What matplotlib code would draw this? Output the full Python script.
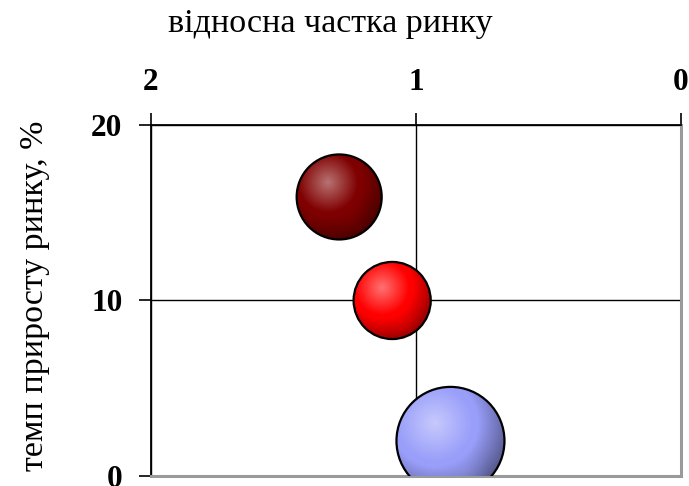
import numpy as np
import matplotlib
matplotlib.use("Agg")
from matplotlib import pyplot as plt
from matplotlib.patches import Ellipse

# relative market share (x), market growth rate % (y), bubble size
share = [1.29, 1.09, 0.87]
growth = [15.9, 10.0, 2.0]
size = [62, 51, 100]
colors = [(0.50, 0.0, 0.0), (1.0, 0.0, 0.0), (0.60, 0.62, 0.98)]

x_ticks = [2, 1, 0]
y_ticks = [0, 10, 20]

plt.rcParams['font.family'] = ['Liberation Serif', 'DejaVu Serif']

fig = plt.figure(figsize=(6.89, 4.86), dpi=100)
ax = fig.add_axes([0.2192, 0.0206, 0.7692, 0.7222])
ax.set_xlim(2, 0)
ax.set_ylim(0, 20)

ax.xaxis.tick_top()
ax.set_xticks(x_ticks)
ax.set_yticks(y_ticks)
ax.tick_params(axis='both', direction='out', length=8.5, width=1.2, color='black',
               labelsize=22.5, pad=12)
for lab in ax.get_xticklabels() + ax.get_yticklabels():
    lab.set_fontweight('bold')

ax.grid(True, color='black', linewidth=1.0)
ax.set_axisbelow(True)
for side in ['top', 'left']:
    ax.spines[side].set_color('black')
    ax.spines[side].set_linewidth(1.3)
for side in ['bottom', 'right']:
    ax.spines[side].set_color('#9a9a9a')
    ax.spines[side].set_linewidth(2.2)

fig.text(0.479, 0.952, "відносна частка ринку", fontsize=24.5, ha='center', va='center')
fig.text(0.050, 0.392, "темп приросту ринку, %", fontsize=24.5, rotation=90,
         ha='center', va='center')

# pixel scale of the data axes
p0 = ax.transData.transform((0, 0))
p1 = ax.transData.transform((1, 1))
px_x = abs(p1[0] - p0[0])
px_y = abs(p1[1] - p0[1])

R_MAX = 54.0
n = 300
u = np.linspace(-1, 1, n)
U, V = np.meshgrid(u, u)


def sphere_image(base):
    base = np.array(base)
    d = np.sqrt((U + 0.28) ** 2 + (V - 0.32) ** 2)
    light = base + (1 - base) * 0.45
    dark = base * 0.5
    t1 = np.clip(d / 0.7, 0, 1)[..., None]
    mid = light * (1 - t1) + base * t1
    t2 = np.clip((d - 0.8) / 0.7, 0, 1)[..., None]
    img = mid * (1 - t2) + dark * t2
    # soft reflection near lower right
    dr = np.sqrt((U - 0.25) ** 2 + (V + 0.55) ** 2)
    glow = np.clip(1 - dr / 0.45, 0, 1)[..., None] * 0.3
    img = img * (1 - glow) + base[None, None, :] * glow
    return np.clip(img, 0, 1)


smax = max(size)
for xs, ys, s, c in zip(share, growth, size, colors):
    r = R_MAX * np.sqrt(s / smax)
    w = 2 * r / px_x
    h = 2 * r / px_y
    ell = Ellipse((xs, ys), w, h, facecolor='none', edgecolor='black', linewidth=1.6, zorder=4)
    ax.add_patch(ell)
    im = ax.imshow(sphere_image(c), extent=[xs + w / 2, xs - w / 2, ys - h / 2, ys + h / 2],
                   origin='lower', aspect='auto', zorder=3, interpolation='bilinear')
    im.set_clip_path(ell)

ax.set_xlim(2, 0)
ax.set_ylim(0, 20)

plt.savefig("out.png", dpi=100)
